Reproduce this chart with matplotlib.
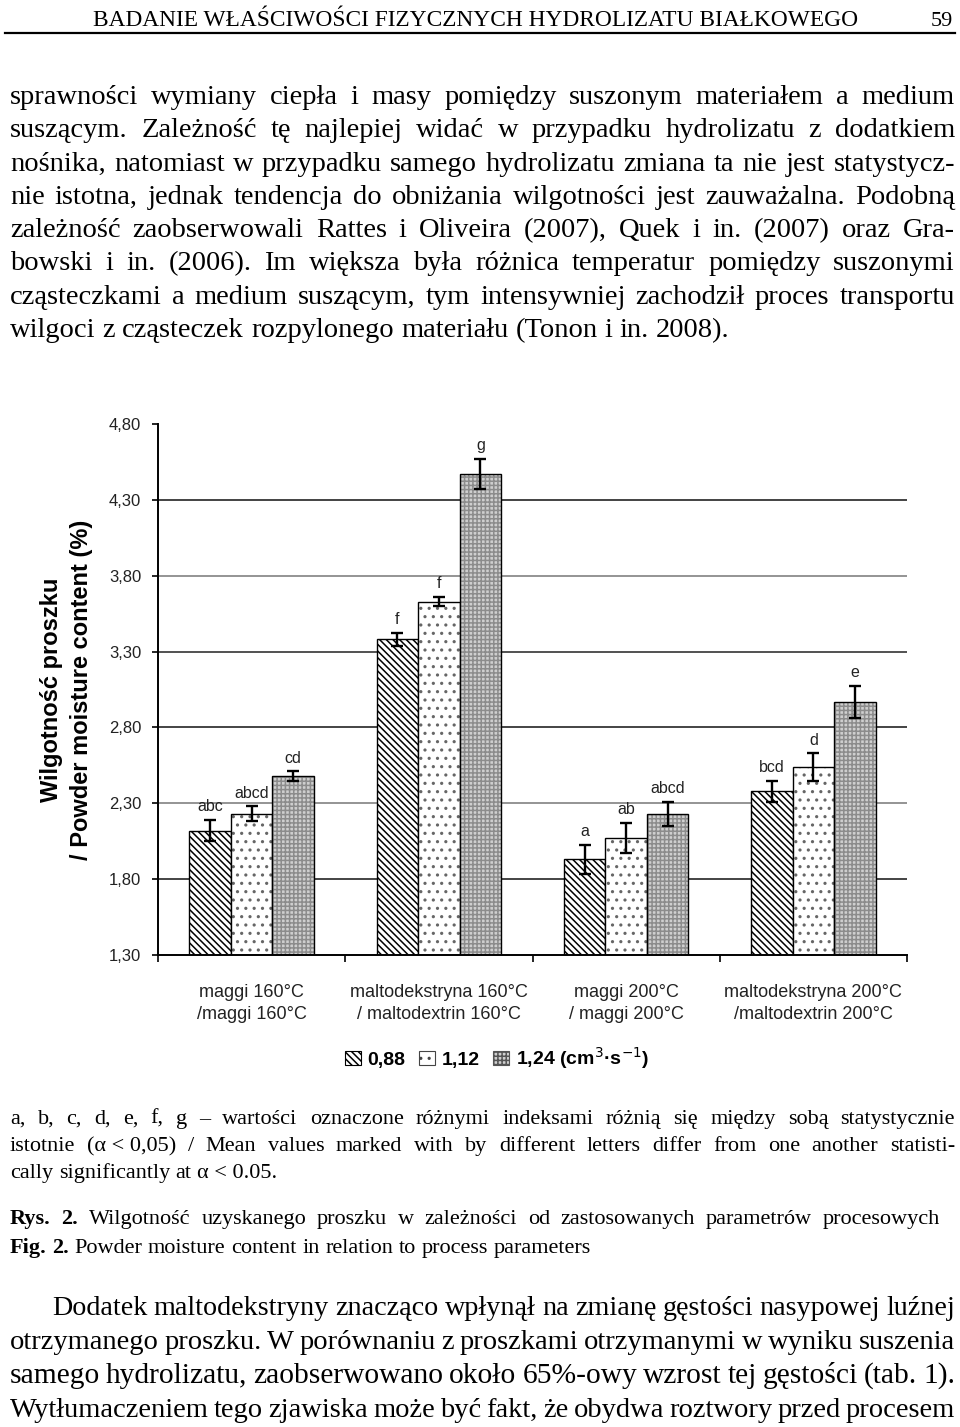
import numpy as np
import matplotlib
matplotlib.use('Agg')
import matplotlib.pyplot as plt
from matplotlib.patches import Patch

# ---- chart data ----
categories = ['maggi 160°C\n/maggi 160°C',
              'maltodekstryna 160°C\n/ maltodextrin 160°C',
              'maggi 200°C\n/ maggi 200°C',
              'maltodekstryna 200°C\n/maltodextrin 200°C']
flow_labels = ['0,88', '1,12', '1,24 (cm$^{3}$·s$^{-1}$)']
moisture_088 = [2.12, 3.38, 1.93, 2.38]
moisture_112 = [2.23, 3.63, 2.07, 2.54]
moisture_124 = [2.48, 4.47, 2.23, 2.97]
err_088 = [0.07, 0.045, 0.095, 0.07]
err_112 = [0.05, 0.03, 0.10, 0.09]
err_124 = [0.03, 0.10, 0.08, 0.105]
letters_088 = ['abc', 'f', 'a', 'bcd']
letters_112 = ['abcd', 'f', 'ab', 'd']
letters_124 = ['cd', 'g', 'abcd', 'e']
yticks = [1.30, 1.80, 2.30, 2.80, 3.30, 3.80, 4.30, 4.80]

# ---- page text ----
header = 'BADANIE WŁAŚCIWOŚCI FIZYCZNYCH HYDROLIZATU BIAŁKOWEGO'
page_no = '59'
body_top = [
    'sprawności wymiany ciepła i masy pomiędzy suszonym materiałem a medium',
    'suszącym. Zależność tę najlepiej widać w przypadku hydrolizatu z dodatkiem',
    'nośnika, natomiast w przypadku samego hydrolizatu zmiana ta nie jest statystycz-',
    'nie istotna, jednak tendencja do obniżania wilgotności jest zauważalna. Podobną',
    'zależność zaobserwowali Rattes i Oliveira (2007), Quek i in. (2007) oraz Gra-',
    'bowski i in. (2006). Im większa była różnica temperatur pomiędzy suszonymi',
    'cząsteczkami a medium suszącym, tym intensywniej zachodził proces transportu',
    'wilgoci z cząsteczek rozpylonego materiału (Tonon i in. 2008).',
]
note_lines = [
    'a, b, c, d, e, f, g – wartości oznaczone różnymi indeksami różnią się między sobą statystycznie',
    'istotnie (α\u00a0<\u00a00,05) / Mean values marked with by different letters differ from one another statisti-',
    'cally significantly at α\u00a0<\u00a00.05.',
]
caption_pl = 'Rys. 2. Wilgotność uzyskanego proszku w zależności od zastosowanych parametrów procesowych'
caption_en = 'Fig. 2. Powder moisture content in relation to process parameters'
body_bottom = [
    'Dodatek maltodekstryny znacząco wpłynął na zmianę gęstości nasypowej luźnej',
    'otrzymanego proszku. W porównaniu z proszkami otrzymanymi w wyniku suszenia',
    'samego hydrolizatu, zaobserwowano około 65%-owy wzrost tej gęstości (tab. 1).',
    'Wytłumaczeniem tego zjawiska może być fakt, że obydwa roztwory przed procesem',
]

W, H = 960, 1427
plt.rcParams['hatch.linewidth'] = 1.1
plt.rcParams['font.family'] = ['Liberation Sans', 'DejaVu Sans']
fig = plt.figure(figsize=(W / 100, H / 100), dpi=100)
rend = fig.canvas.get_renderer()


def text_line(line, y, x0, x1, size, justify=True, bold_first=0, family='Liberation Serif'):
    """place one line of words, stretched between x0 and x1 (pixels)"""
    words = line.split(' ')
    arts = [fig.text(0, 1 - y / H, w, fontsize=size, family=family, va='baseline',
                     weight='bold' if k < bold_first else 'normal')
            for k, w in enumerate(words)]
    while True:
        widths = [a.get_window_extent(rend).width for a in arts]
        em = size * 100 / 72
        gap = em * 0.25
        if justify and len(words) > 1:
            gap = (x1 - x0 - sum(widths)) / (len(words) - 1)
        if gap >= em * 0.18 or size < 8:
            break
        size -= 0.25
        for a in arts:
            a.set_fontsize(size)
    x = x0
    for a, w in zip(arts, widths):
        a.set_x(x / W)
        x += w + gap


# header
h = fig.text(476 / W, 1 - 26 / H, header, fontsize=16, family='Liberation Serif',
             ha='center', va='baseline')
hw = h.get_window_extent(rend).width
h.set_fontsize(16 * 767 / hw)
fig.text(953 / W, 1 - 26 / H, page_no, fontsize=16, family='Liberation Serif',
         ha='right', va='baseline')
fig.add_artist(plt.Line2D([5 / W, 955 / W], [1 - 33 / H, 1 - 33 / H], color='black', lw=1.6))

for i, line in enumerate(body_top):
    text_line(line, 104 + i * 33.3, 10, 955, 20.5, justify=(i < len(body_top) - 1))

for i, line in enumerate(note_lines):
    text_line(line, 1124 + i * 27, 10, 955, 16, justify=(i < 2))
text_line(caption_pl, 1224, 10, 940, 16, justify=True, bold_first=2)
text_line(caption_en, 1253, 10, 940, 16, justify=False, bold_first=2)

for i, line in enumerate(body_bottom):
    text_line(line, 1315 + i * 34, 52 if i == 0 else 10, 955, 21.5, justify=True)

# ---- chart ----
ax = fig.add_axes([158 / W, 1 - 955 / H, (907 - 158) / W, (955 - 424) / H])
x = np.arange(len(categories))
bw = 0.222

series = [(moisture_088, err_088, letters_088),
          (moisture_112, err_112, letters_112),
          (moisture_124, err_124, letters_124)]

for i, (vals, errs, lets) in enumerate(series):
    xs = x + (i - 1) * bw
    if i == 0:
        ax.bar(xs, vals, bw, color='white', edgecolor='black', hatch='\\\\\\\\\\', lw=1, zorder=2)
    elif i == 1:
        ax.bar(xs, vals, bw, color='white', edgecolor='#666666', hatch='..', lw=0, zorder=2)
        ax.bar(xs, vals, bw, fill=False, edgecolor='black', lw=1, zorder=2)
    else:
        ax.bar(xs, vals, bw, color='#cfcfcf', edgecolor='#8c8c8c', hatch='++++', lw=0, zorder=2)
        ax.bar(xs, vals, bw, fill=False, edgecolor='black', lw=1, zorder=2)
    ax.errorbar(xs, vals, yerr=errs, fmt='none', ecolor='black', elinewidth=1.7,
                capsize=4, capthick=1.7, zorder=3)
    for xi, v, e, lab in zip(xs, vals, errs, lets):
        ax.annotate(lab, (xi, v + e), xytext=(0, 4), textcoords='offset points',
                    ha='center', va='bottom', fontsize=11.5, color='#222222')

grid_colors = ['#111111', '#777777', '#111111', '#222222', '#777777', '#111111']
for yv, c in zip(yticks[1:-1], grid_colors):
    ax.axhline(yv, color=c, lw=1.1, zorder=1)

ax.set_xlim(-0.5, len(categories) - 0.5)
ax.set_ylim(yticks[0], yticks[-1])
ax.set_yticks(yticks)
ax.set_yticklabels([f'{v:.2f}'.replace('.', ',') for v in yticks])
ax.set_xticks(np.arange(-0.5, len(categories), 1))
ax.set_xticklabels([])
ax.set_xticks(x, minor=True)
ax.set_xticklabels(categories, minor=True, fontsize=13, color='#222222')
for lbl in ax.get_xticklabels(minor=True):
    lbl.set_linespacing(1.4)
ax.tick_params(axis='x', which='major', length=5, width=1.2, direction='out')
ax.tick_params(axis='x', which='minor', length=0, pad=21)
ax.tick_params(axis='y', length=4, width=1.2, direction='out', pad=8,
               labelsize=12, labelcolor='#222222')
for s in ['top', 'right']:
    ax.spines[s].set_visible(False)
for s in ['left', 'bottom']:
    ax.spines[s].set_linewidth(1.4)

fig.text(52 / W, 1 - 690 / H, 'Wilgotność proszku', rotation=90, ha='center', va='center',
         fontsize=17, weight='bold')
fig.text(82 / W, 1 - 690 / H, '/ Powder moisture content (%)', rotation=90, ha='center',
         va='center', fontsize=17, weight='bold')

handles = [Patch(facecolor='white', edgecolor='black', hatch='\\\\\\\\\\', lw=0.8),
           Patch(facecolor='white', edgecolor='#444444', hatch='..', lw=0.8),
           Patch(facecolor='#cfcfcf', edgecolor='#555555', hatch='++++', lw=0.8)]
fig.legend(handles, flow_labels, loc='center', bbox_to_anchor=(497 / W, 1 - 1058 / H),
           ncol=3, frameon=False, prop={'size': 14, 'weight': 'bold'}, handlelength=0.8,
           handleheight=0.8, handletextpad=0.35, columnspacing=0.7)

fig.savefig('out.png', dpi=100)
